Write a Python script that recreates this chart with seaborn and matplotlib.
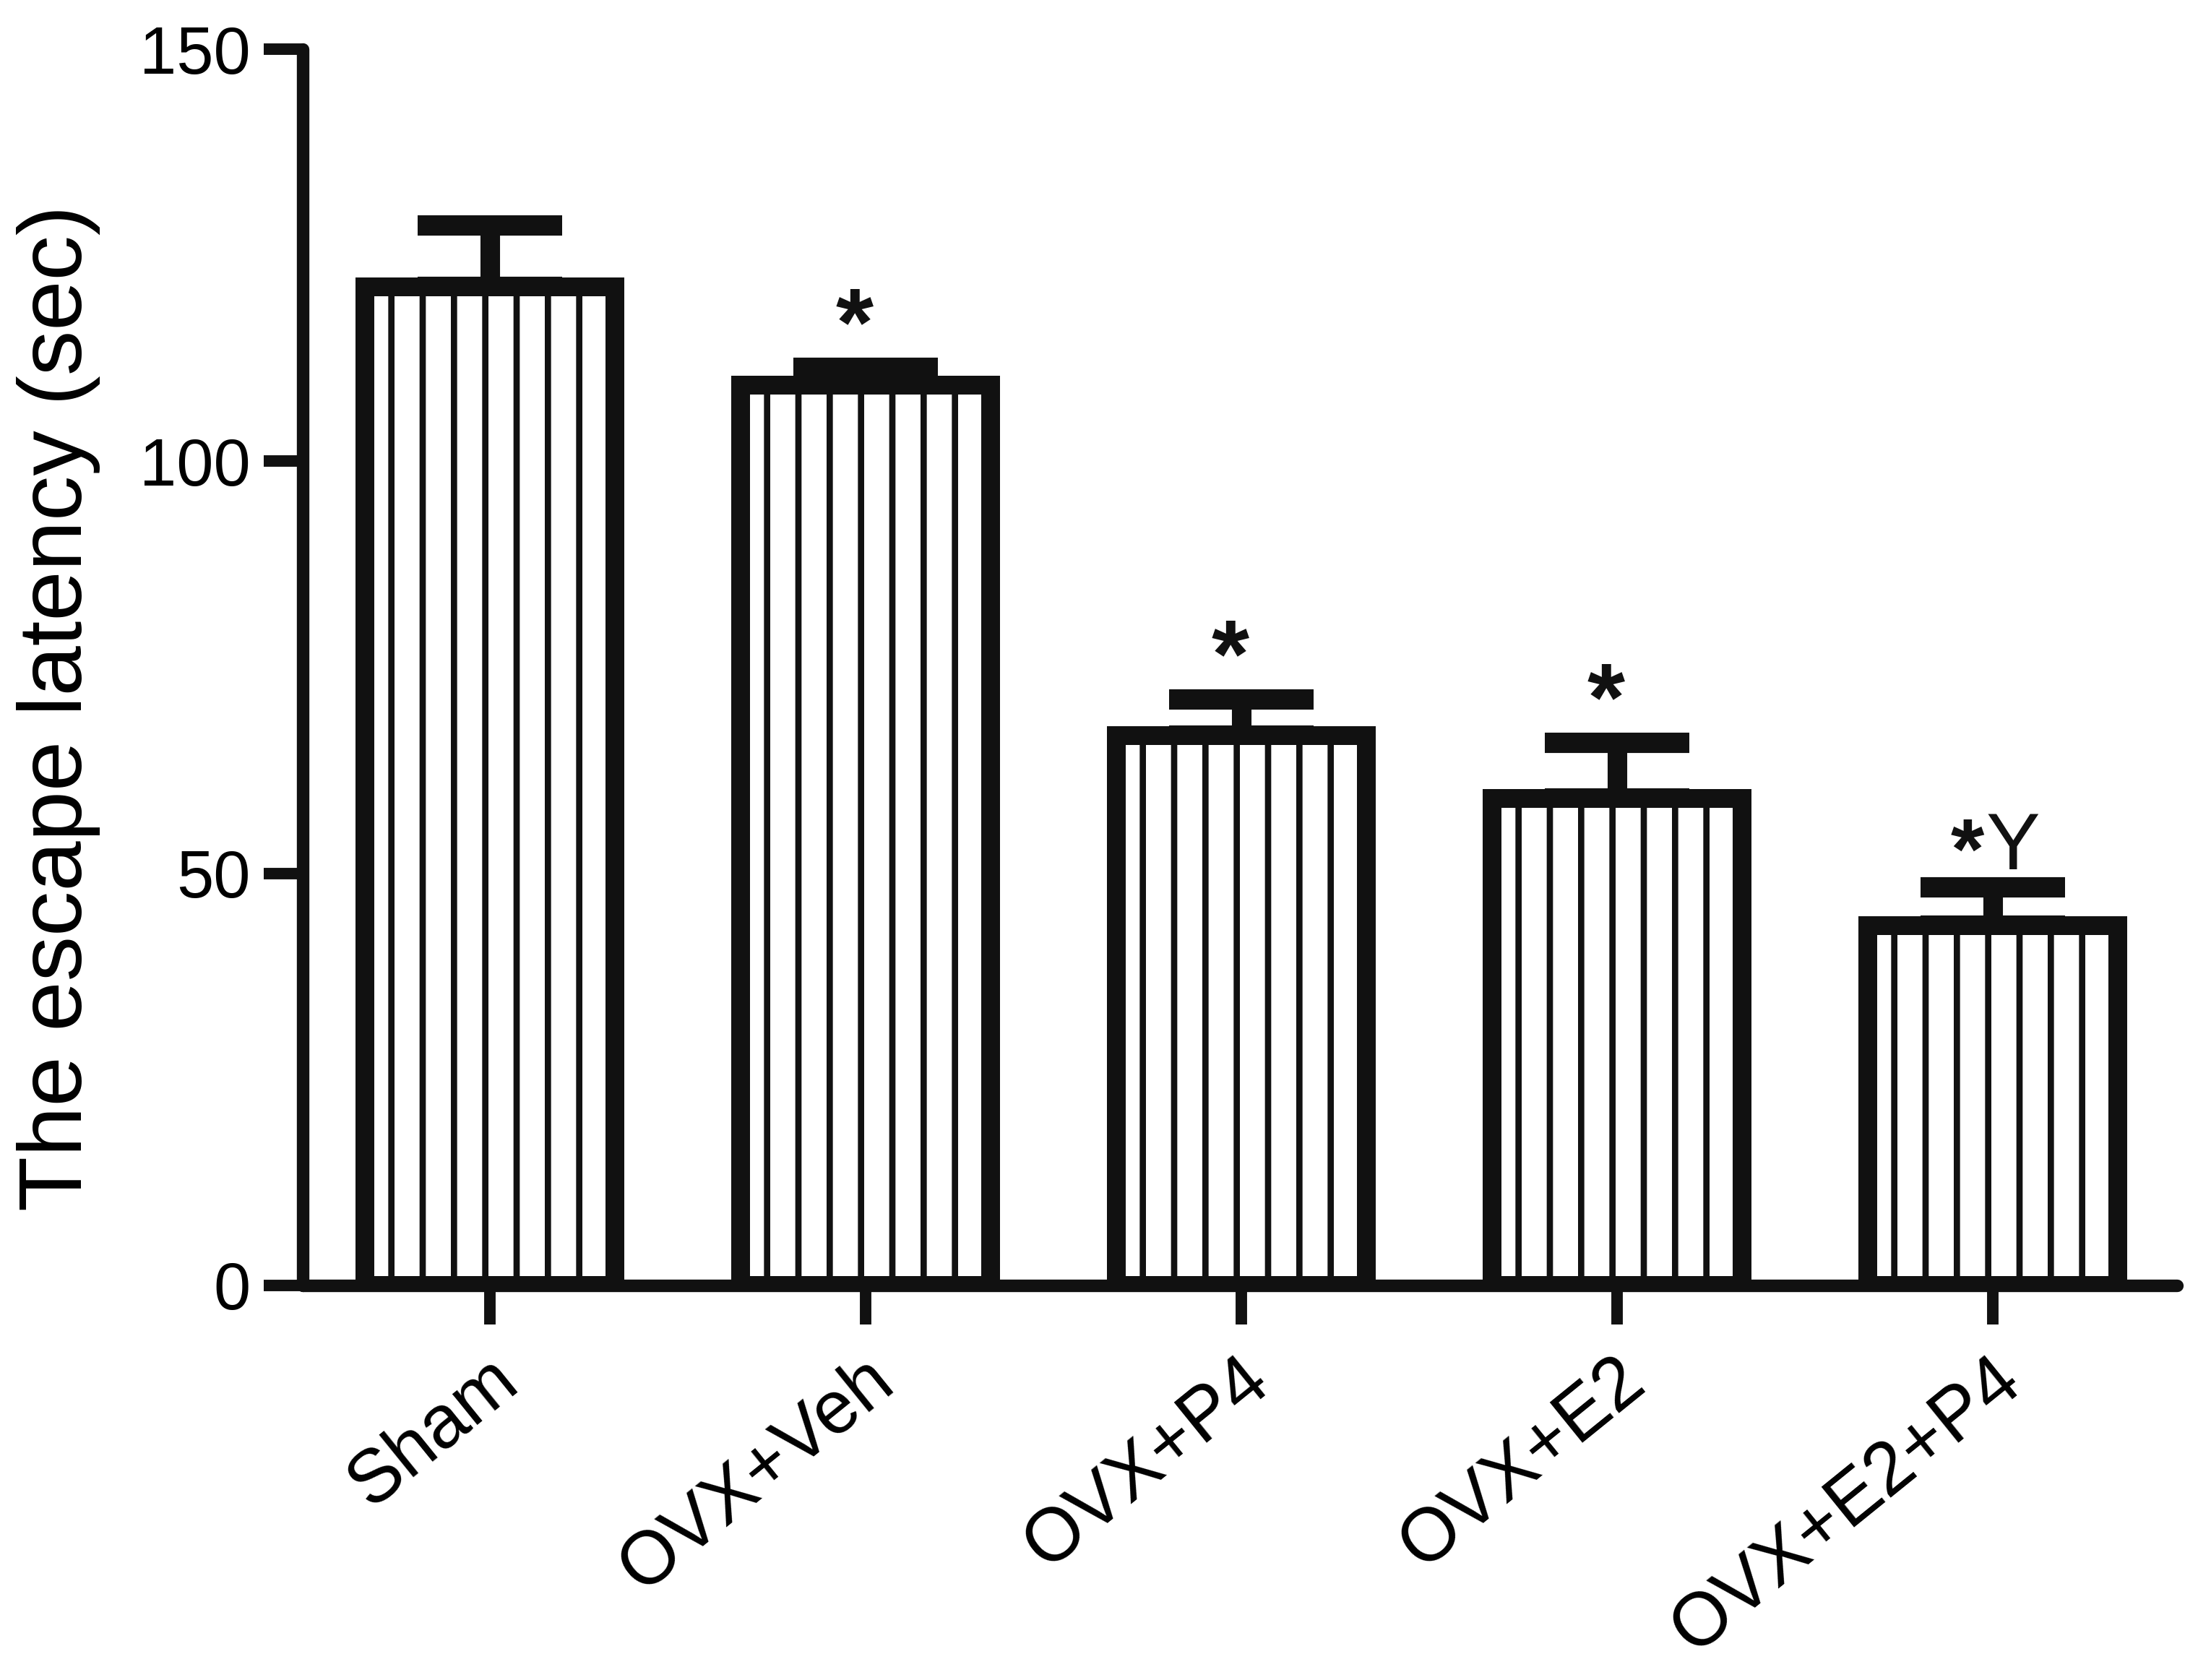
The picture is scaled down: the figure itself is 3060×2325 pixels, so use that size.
import numpy as np
import pandas as pd
import matplotlib
matplotlib.use("Agg")
import matplotlib.pyplot as plt
import matplotlib.transforms as mtransforms
import seaborn as sns

# values (mean and upper error, sec)
groups = ["Sham", "OVX+Veh", "OVX+P4", "OVX+E2", "OVX+E2+P4"]
means = [121.2, 109.2, 66.7, 59.1, 43.7]
errors = [7.4, 2.1, 4.4, 6.7, 4.6]
stars = ["", "*", "*", "*", "*"]
extra = ["", "", "", "", "Y"]

df = pd.DataFrame({"group": groups, "latency": means})

sns.set_style("ticks")
plt.rcParams["font.family"] = ["Liberation Sans", "DejaVu Sans"]
plt.rcParams["hatch.linewidth"] = 2.4
plt.rcParams["hatch.color"] = "#111111"

DPI = 260
ink = "#111111"

fig = plt.figure(figsize=(3060 / DPI, 2325 / DPI), dpi=DPI)
ax = fig.add_axes([0.13693, 0.23484, 0.84765, 0.73591])

sns.barplot(data=df, x="group", y="latency", color="white", edgecolor=ink,
            linewidth=7.2, width=0.6667, errorbar=None, saturation=1, ax=ax)
for p in ax.patches:
    p.set_facecolor("white")
    p.set_hatch("|")
    p.set_zorder(2)

x = np.arange(len(groups))
ax.errorbar(x, means, yerr=[np.zeros(len(errors)), errors], fmt="none",
            ecolor=ink, elinewidth=7.5, capsize=27.7, capthick=7.8, zorder=1)

# significance marks
for xi, m, e, s, t in zip(x, means, errors, stars, extra):
    if not s:
        continue
    if t:
        ax.text(xi - 0.067, m + e + 1.1, s, ha="center", va="baseline",
                fontsize=33, fontweight="bold", color=ink)
        ax.text(xi - 0.019, m + e + 2.2, t, ha="left", va="baseline",
                fontsize=31, color=ink)
    else:
        ax.text(xi - 0.029, m + e + 1.6, s, ha="center", va="baseline",
                fontsize=37, fontweight="bold", color=ink)

ax.set_xlim(-0.498, 4.49)
ax.set_ylim(0, 150)
ax.set_yticks([0, 50, 100, 150])
sns.despine(ax=ax)
for s in ["left", "bottom"]:
    ax.spines[s].set_linewidth(4.8)
    ax.spines[s].set_color(ink)
    ax.spines[s].set_capstyle("round")

ax.tick_params(axis="both", length=15, width=4.4, color=ink, labelcolor="black")
ax.tick_params(axis="y", labelsize=25.5, pad=5)
ax.tick_params(axis="x", labelsize=28.5, pad=7.7)
ax.set_xlabel("")
ax.set_ylabel("The escape latency (sec)", fontsize=34.5, color="black")
ax.yaxis.set_label_coords(-0.108, 0.467)

offset = mtransforms.ScaledTranslation(-1.1 / 72, 0, fig.dpi_scale_trans)
for lab in ax.get_xticklabels():
    lab.set_rotation(39)
    lab.set_ha("right")
    lab.set_va("top")
    lab.set_rotation_mode("anchor")
    lab.set_transform(lab.get_transform() + offset)

fig.savefig("out.png", dpi=DPI, facecolor="white")
